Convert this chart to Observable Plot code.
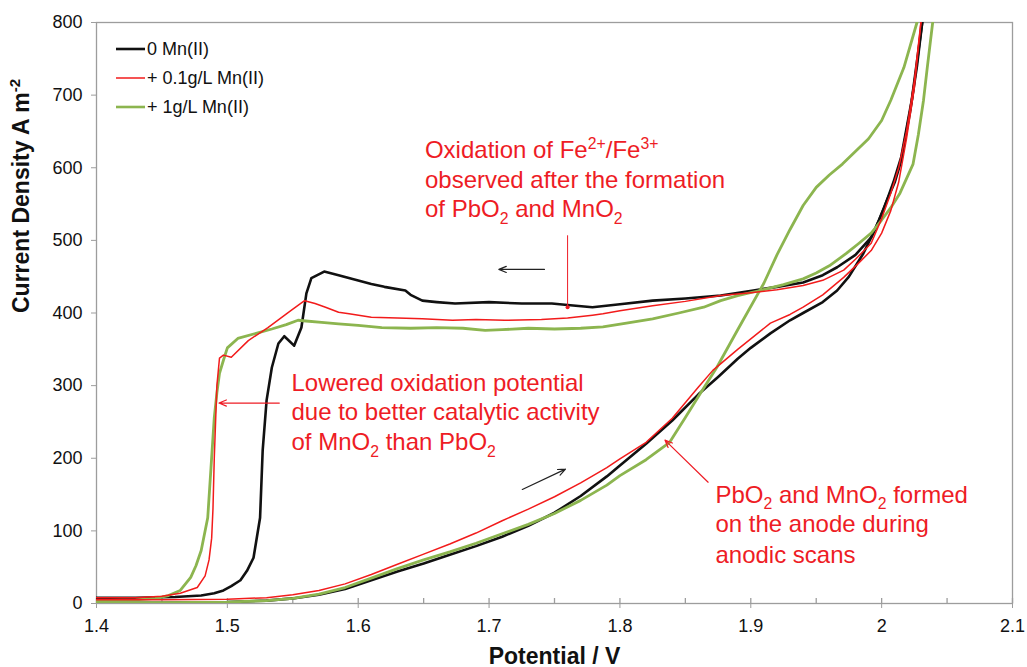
<!DOCTYPE html>
<html><head><meta charset="utf-8">
<script src="https://cdn.jsdelivr.net/npm/d3@7"></script>
<script src="https://cdn.jsdelivr.net/npm/@observablehq/plot@0.6"></script>
<style>
body{margin:0;background:#fff;}
#wrap{position:relative;width:1027px;height:667px;font-family:"Liberation Sans",Arial,sans-serif;}
#legend{position:absolute;left:116px;top:34px;font-size:18px;color:#111;line-height:1;}
.row{display:flex;align-items:center;height:29px;}
.sw{width:29px;margin-right:2px;}
</style></head><body><div id="wrap"><div id="chart"></div><div id="legend"></div></div>
<script>
// ---- series (Potential V, Current density A m-2) ----
const seriesNames = ["0 Mn(II)", "+ 0.1g/L Mn(II)", "+ 1g/L Mn(II)"];
const seriesColors = ["#111111", "#f21b1b", "#8cb54f"];
const seriesWidths = [2.6, 1.5, 2.8];

const blackForward = [[1.40,1],[1.45,1],[1.50,2],[1.53,4],[1.55,7],[1.57,12],[1.59,20],[1.61,32],[1.63,44],[1.65,55],[1.67,67],[1.69,79],[1.71,92],[1.73,107],[1.75,125],[1.77,148],[1.79,175],[1.80,190],[1.82,220],[1.84,252],[1.86,288],[1.875,312],[1.89,337],[1.90,352],[1.915,372],[1.93,390],[1.94,400],[1.955,415],[1.966,431],[1.975,450],[1.986,482],[1.995,515],[2.002,545],[2.009,580],[2.015,615],[2.023,693],[2.031,800]];
const blackReturn = [[2.031,800],[2.027,740],[2.022,680],[2.015,610],[2.01,580],[2.004,555],[1.998,528],[1.992,504],[1.98,480],[1.966,463],[1.955,452],[1.94,442],[1.92,436],[1.902,431],[1.877,424],[1.85,420],[1.825,417],[1.80,412],[1.779,408],[1.76,411],[1.748,413],[1.725,413],[1.70,415],[1.674,413],[1.66,415],[1.649,417],[1.64,425],[1.636,431],[1.62,436],[1.61,440],[1.595,447],[1.585,452],[1.574,457],[1.5642,448],[1.5604,427],[1.5566,380],[1.551,355],[1.5435,368],[1.539,358],[1.534,325],[1.53,280],[1.527,211],[1.525,118],[1.52,63],[1.515,45],[1.51,32],[1.503,24],[1.497,18],[1.49,14],[1.48,11],[1.46,9],[1.43,8],[1.40,8]];

const redForward = [[1.40,5],[1.45,5],[1.50,6],[1.53,8],[1.55,12],[1.57,18],[1.59,27],[1.61,40],[1.63,54],[1.65,68],[1.67,82],[1.69,97],[1.71,114],[1.73,130],[1.75,147],[1.77,166],[1.79,187],[1.80,199],[1.82,222],[1.84,255],[1.86,298],[1.871,321],[1.89,350],[1.915,386],[1.93,398],[1.94,408],[1.955,425],[1.971,449],[1.982,468],[1.992,486],[2.0,510],[2.007,541],[2.013,580],[2.019,640],[2.025,710],[2.030,800]];
const redReturn = [[2.030,800],[2.025,720],[2.019,650],[2.013,600],[2.007,565],[2.0,530],[1.992,496],[1.98,474],[1.971,459],[1.955,445],[1.94,438],[1.92,432],[1.90,428],[1.877,424],[1.85,416],[1.825,410],[1.80,403],[1.787,399],[1.779,397],[1.76,393],[1.74,391],[1.712,390],[1.69,391],[1.672,390],[1.649,392],[1.63,393],[1.61,394],[1.593,399],[1.585,401],[1.575,408],[1.567,413],[1.559,417],[1.549,404],[1.54,392],[1.531,380],[1.516,362],[1.503,339],[1.497,342],[1.494,338],[1.492,300],[1.491,250],[1.490,200],[1.489,130],[1.488,90],[1.486,60],[1.483,38],[1.477,22],[1.464,14],[1.45,10],[1.43,8],[1.40,8]];

const greenForward = [[1.40,1],[1.45,1],[1.50,2],[1.53,4],[1.55,7],[1.57,13],[1.59,22],[1.61,35],[1.63,48],[1.65,60],[1.67,71],[1.69,83],[1.71,96],[1.73,109],[1.75,124],[1.77,142],[1.79,163],[1.80,176],[1.82,198],[1.838,222],[1.85,256],[1.862,291],[1.874,325],[1.89,377],[1.91,441],[1.92,480],[1.93,515],[1.94,548],[1.95,573],[1.96,590],[1.97,605],[1.99,640],[2.0,665],[2.007,693],[2.017,738],[2.027,800]];
const greenReturn = [[2.039,800],[2.035,740],[2.032,693],[2.028,645],[2.024,605],[2.019,585],[2.014,565],[2.007,545],[2.0,528],[1.992,510],[1.982,495],[1.973,482],[1.96,465],[1.95,455],[1.94,447],[1.925,439],[1.907,431],[1.89,424],[1.877,417],[1.864,408],[1.845,400],[1.825,392],[1.805,386],[1.787,381],[1.77,379],[1.75,378],[1.73,379],[1.71,377],[1.697,376],[1.68,379],[1.66,380],[1.64,379],[1.618,380],[1.60,383],[1.585,385],[1.572,387],[1.56,389],[1.554,390],[1.545,384],[1.534,378],[1.524,373],[1.508,365],[1.50,352],[1.497,335],[1.494,317],[1.492,290],[1.49,256],[1.4875,187],[1.485,118],[1.48,73],[1.476,52],[1.472,36],[1.464,18],[1.455,11],[1.445,7],[1.43,5],[1.40,4]];

// ---- axes ----
const xTicks = [1.4,1.5,1.6,1.7,1.8,1.9,2.0,2.1];
const xTickLabels = ["1.4","1.5","1.6","1.7","1.8","1.9","2","2.1"];
const xMinorTicks = [1.4,1.45,1.5,1.55,1.6,1.65,1.7,1.75,1.8,1.85,1.9,1.95,2.0,2.05,2.1];
const yTicks = [0,100,200,300,400,500,600,700,800];
const xLabel = "Potential / V";
const yLabel = "Current Density A m^{-2}";

// ---- annotations (data coordinates) ----
const noteColor = "#ee1c25";
const noteLines = [
  {x:1.651, y:613, text:"Oxidation of Fe^{2+}/Fe^{3+}"},
  {x:1.651, y:572, text:"observed after the formation"},
  {x:1.651, y:532, text:"of PbO_{2} and MnO_{2}"},
  {x:1.549, y:293, text:"Lowered oxidation potential"},
  {x:1.549, y:252, text:"due to better catalytic activity"},
  {x:1.549, y:211, text:"of MnO_{2} than PbO_{2}"},
  {x:1.873, y:139, text:"PbO_{2} and MnO_{2} formed"},
  {x:1.873, y:98, text:"on the anode during"},
  {x:1.873, y:56, text:"anodic scans"}
];
const arrows = [
  {x1:1.7423, y1:460, x2:1.7075, y2:460, color:"#222"},
  {x1:1.7254, y1:157, x2:1.7584, y2:185, color:"#222"},
  {x1:1.5397, y1:276, x2:1.4936, y2:276, color:noteColor},
  {x1:1.8674, y1:167, x2:1.8344, y2:225, color:noteColor}
];
const pointer = [{x:1.760, y1:507, y2:408}];

// ---- build rows ----
const branches = [
  [0,"f",blackForward],[0,"r",blackReturn],
  [2,"f",greenForward],[2,"r",greenReturn],
  [1,"f",redForward],[1,"r",redReturn]
];
const rows = [];
for (const [s, b, pts] of branches) for (const [V, I] of pts) rows.push({s, b: s + b, V, I});

const lineMarks = [0,2,1].map(s => Plot.line(rows.filter(d => d.s === s), {
  x: "V", y: "I", z: "b", stroke: seriesColors[s], strokeWidth: seriesWidths[s],
  strokeLinejoin: "round", clip: true
}));

const grey = "#9d9d9d";
const plot = Plot.plot({
  width: 1027, height: 667,
  marginLeft: 96, marginRight: 15, marginTop: 22, marginBottom: 64,
  x: {domain: [1.4, 2.1]},
  y: {domain: [0, 800]},
  style: {fontFamily: "'Liberation Sans', Arial, sans-serif", background: "#fff", color: "#111", overflow: "visible"},
  marks: [
    Plot.frame({stroke: grey, strokeWidth: 1.3}),
    Plot.axisX({ticks: xTicks, tickSize: 5, tickPadding: 11, fontSize: 18, stroke: grey, fill: "#111",
      tickFormat: d => xTickLabels[xTicks.indexOf(d)], label: null}),
    Plot.ruleX(xMinorTicks, {x: d => d, y1: 0, y2: 0, insetBottom: 5, stroke: grey, strokeWidth: 1.3}),
    Plot.axisY({ticks: yTicks, tickSize: 5, tickPadding: 9, fontSize: 18, stroke: grey, fill: "#111",
      tickFormat: d => String(d), label: null}),
    ...lineMarks,
    Plot.link(pointer, {x1: "x", x2: "x", y1: "y1", y2: "y2", stroke: noteColor, strokeWidth: 1}),
    Plot.dot(pointer, {x: "x", y: "y2", r: 2, fill: noteColor}),
    Plot.arrow(arrows, {x1: "x1", y1: "y1", x2: "x2", y2: "y2", stroke: "color", strokeWidth: 1.2, headLength: 10, headAngle: 45}),
    Plot.text(noteLines, {x: "x", y: "y", text: "text", textAnchor: "start", lineAnchor: "bottom", fontSize: 24, fill: noteColor}),
    Plot.text([xLabel], {frameAnchor: "bottom", dy: 60, lineAnchor: "bottom", text: d => d, fontSize: 23, fontWeight: "bold", fill: "#111"}),
    Plot.text([yLabel], {frameAnchor: "left", dx: -75, rotate: -90, lineAnchor: "middle", text: d => d, fontSize: 23, fontWeight: "bold", fill: "#111"})
  ]
});
document.getElementById("chart").appendChild(plot);

// sub/superscripts as real tspans
const SVGNS = "http://www.w3.org/2000/svg";
plot.querySelectorAll("text").forEach(el => {
  const s = el.textContent;
  if (!/[_^]\{/.test(s) || el.children.length) return;
  const size = parseFloat(getComputedStyle(el).fontSize) || 20;
  const parts = s.split(/([_^]\{[^}]*\})/);
  el.textContent = "";
  let shift = 0;
  for (const p of parts) {
    if (!p) continue;
    const m = p.match(/^([_^])\{([^}]*)\}$/);
    const t = document.createElementNS(SVGNS, "tspan");
    if (m) {
      const target = m[1] === "_" ? 0.28 * size : -0.4 * size;
      t.setAttribute("dy", target - shift); shift = target;
      t.setAttribute("font-size", (0.66 * size).toFixed(1));
      t.textContent = m[2];
    } else {
      t.setAttribute("dy", -shift); shift = 0;
      t.textContent = p;
    }
    el.appendChild(t);
  }
});

// legend
const legend = document.getElementById("legend");
seriesNames.forEach((name, i) => {
  const row = document.createElement("div");
  row.className = "row";
  row.innerHTML = `<svg class="sw" width="29" height="6"><line x1="0" x2="29" y1="3" y2="3" stroke="${seriesColors[i]}" stroke-width="${Math.min(seriesWidths[i],2.6)}"/></svg><span>${name}</span>`;
  legend.appendChild(row);
});
</script></body></html>
